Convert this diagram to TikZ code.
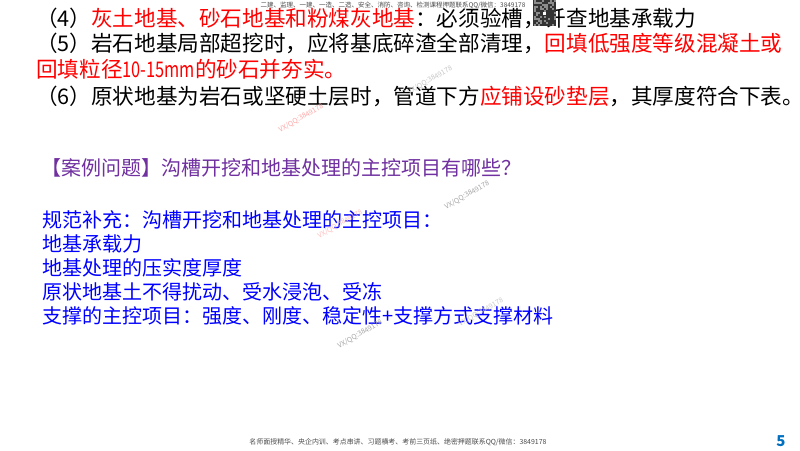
\documentclass[tikz,border=0pt]{standalone}
\usepackage{fontspec}
\setmainfont{Noto Sans CJK SC}
\usepackage{graphicx}
\usepackage{xcolor}
\usetikzlibrary{positioning}
\definecolor{alertred}{RGB}{255,0,0}
\definecolor{askpurple}{RGB}{112,48,160}
\definecolor{specblue}{RGB}{0,0,255}
\definecolor{pagenum}{RGB}{0,112,192}
\tikzset{
    slideline/.style = {anchor=west, inner sep=0pt, font=\fontsize{21.6}{24}\selectfont, text=black},
    specline/.style = {anchor=west, inner sep=0pt, font=\fontsize{20}{22}\selectfont, text=specblue},
    stamp/.style = {font=\fontsize{7}{8}\selectfont, text=gray!70, rotate=30, inner sep=0pt},
    smallnote/.style = {inner sep=0pt, text=black!70},
}
\newcommand{\hot}[1]{\textcolor{alertred}{#1}}

\begin{document}
\begin{tikzpicture}[x=1pt,y=-1pt]
\useasboundingbox (0,0) rectangle (800,450);
\fill[white] (0,0) rectangle (800,450);

\node (item4)  [slideline] at (36,18) {（4）\hot{灰土地基、砂石地基和粉煤灰地基}：必须验槽，钎查地基承载力};
\node (item5)  [slideline] at (36,43) {（5）岩石地基局部超挖时，应将基底碎渣全部清理，\hot{回填低强度等级混凝土或}};
\node (item5b) [slideline] at (36,69) {\hot{回填粒径\scalebox{0.76}[1]{10-15mm}的砂石并夯实。}};
\node (item6)  [slideline] at (36,96) {（6）原状地基为岩石或坚硬土层时，管道下方\hot{应铺设砂垫层}，其厚度符合下表\makebox[0.6em][l]{。}};

\node (ask)    [specline,text=askpurple] at (41,168) {【案例问题】沟槽开挖和地基处理的主控项目有哪些？};

\node (spec)   [specline] at (42,220) {规范补充：沟槽开挖和地基处理的主控项目：};
\node (spec1)  [specline] at (42,244) {地基承载力};
\node (spec2)  [specline] at (42,268) {地基处理的压实度厚度};
\node (spec3)  [specline] at (42,292) {原状地基土不得扰动、受水浸泡、受冻};
\node (spec4)  [specline] at (42,316) {支撑的主控项目：强度、刚度、稳定性+支撑方式支撑材料};

% qr patch
\fill[black!80] (533,0) rectangle (556,26);
\pgfmathsetseed{7}
\foreach \i in {0,...,10}
  \foreach \j in {0,...,12} {
    \pgfmathparse{int(random(0,2))}
    \ifnum\pgfmathresult=0
      \fill[black!45] (534+2*\i,2*\j) rectangle +(2,2);
    \fi
  }
\fill[white] (543,12) rectangle +(3,3);

\node (topnote) [smallnote,font=\fontsize{6.5}{8}\selectfont] at (393,5) {二建、监理、一建、一造、二造、安全、消防、咨询、检测课程押题联系QQ/微信：3849178};
\node (footnote) [smallnote,font=\fontsize{6.95}{8}\selectfont] at (398,442) {名师面授精华、央企内训、考点串讲、习题横考、考前三页纸、绝密押题联系QQ/微信：3849178};
\node (pageno) [font=\bfseries\fontsize{15}{16}\selectfont, text=pagenum, inner sep=0pt] at (781,441) {5};

\node (stamp1) [stamp,text=gray!45] at (430,80) {VX/QQ:3849178};
\node (stamp2) [stamp,text=red!35] at (301,118) {VX/QQ:3849178};
\node (stamp3) [stamp] at (467,195) {VX/QQ:3849178};
\node (stamp4) [stamp,text=red!25] at (340,224) {VX/QQ:3849178};
\node (stamp5) [stamp] at (360,334) {VX/QQ:3849178};
\node (stamp6) [stamp,text=gray!40] at (481,312) {VX/QQ:3849178};
\end{tikzpicture}
\end{document}
